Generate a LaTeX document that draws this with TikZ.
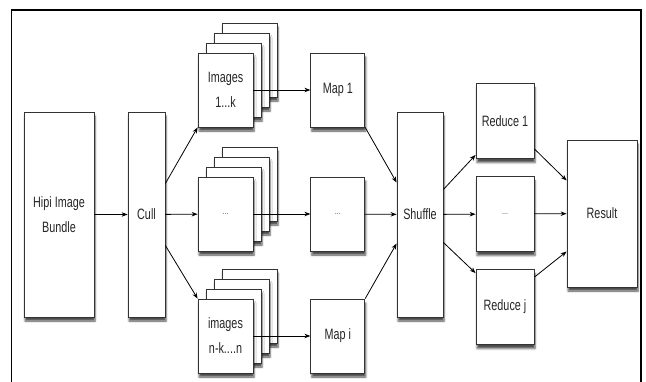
\documentclass[tikz,border=0pt]{standalone}
\usepackage{fontspec}
\setmainfont{Liberation Sans}[FakeStretch=0.72]
\usetikzlibrary{arrows.meta,positioning,shadows.blur}
\tikzset{
    %Define standard arrow tip
    >={Stealth[length=6pt,width=4.5pt]},
    %Define style for boxes
    box/.style={
           rectangle,
           draw=black!80, line width=0.8pt,
           fill=white,
           inner sep=0pt,
           align=center,
           text=black!85,
           font=\fontsize{15}{25}\selectfont,
           blur shadow={shadow xshift=1pt, shadow yshift=-4pt,
                        shadow blur radius=2pt, shadow opacity=70}},
    tallbox/.style={
           box,
           minimum height=205pt},
    pagebox/.style={
           box,
           minimum width=55pt,
           minimum height=74pt},
    mapbox/.style={
           box,
           minimum width=54pt,
           minimum height=74pt},
    redbox/.style={
           box,
           minimum width=58pt,
           minimum height=75pt},
    dots/.style={
           font=\fontsize{10}{10}\selectfont,
           text=black!60},
    % Define arrow style
    arr/.style={
           ->,
           line width=0.8pt}
}

\begin{document}
\begin{tikzpicture}[x=1pt,y=-1pt]
  \useasboundingbox (0,0) rectangle (646,381);
  % frame, cut at the bottom
  \draw[line width=1.4pt] (11.5,395) |- (641,10) -- (641,395);

  \node[tallbox, minimum width=70pt] (hipi) at (59,214.5) {Hipi Image\\Bundle};
  \node[tallbox, minimum width=37pt] (cull) at (146.5,214.5) {Cull};

  % stacks of images
  \foreach \k in {3,2,1} {
    \node[pagebox] (imgsA-\k) at (225.5+8*\k,90-10*\k) {};
    \node[pagebox] (imgsB-\k) at (225.5+8*\k,214-10*\k) {};
    \node[pagebox] (imgsC-\k) at (225.5+8*\k,336-10*\k) {};
  }
  \node[pagebox] (imgsA) at (225.5,90) {Images\\1...k};
  \node[pagebox, dots] (imgsB) at (225.5,214) {...};
  \node[pagebox] (imgsC) at (225.5,336) {images\\n-k....n};

  \node[mapbox, right=57pt of imgsA] (map1) {Map 1};
  \node[mapbox, right=57pt of imgsB, dots] (mapx) {...};
  \node[mapbox, right=57pt of imgsC] (mapi) {Map i};

  \node[tallbox, minimum width=46pt] (shuffle) at (420,214.5) {Shuffle};

  \node[redbox] (red1) at (505,121) {Reduce 1};
  \node[redbox, dots] (redx) at (505,214) {...};
  \node[redbox] (redj) at (505,307) {Reduce j};

  \node[box, minimum width=70pt, minimum height=147pt] (result) at (602,213.5) {Result};

  % connectors
  \draw[arr] (hipi) -- (cull);
  \draw[arr] ([yshift=31pt]cull.east) -- (imgsA.south west);
  \draw[arr] (cull) -- (imgsB);
  \draw[arr] ([yshift=-31pt]cull.east) -- (imgsC.north west);

  \draw[arr] (imgsA.east) -- (map1.west);
  \draw[arr] (imgsB.east) -- (mapx.west);
  \draw[arr] (imgsC.east) -- (mapi.west);

  \draw[arr] (map1.south east) -- ([yshift=32pt]shuffle.west);
  \draw[arr] (mapx) -- (shuffle);
  \draw[arr] (mapi.north east) -- ([yshift=-29pt]shuffle.west);

  \draw[arr] ([yshift=25pt]shuffle.east) -- ([yshift=4pt]red1.south west);
  \draw[arr] (shuffle) -- (redx);
  \draw[arr] ([yshift=-28pt]shuffle.east) -- ([yshift=-4pt]redj.north west);

  \draw[arr] ([yshift=10pt]red1.south east) -- ([yshift=33pt]result.west);
  \draw[arr] (redx) -- (result);
  \draw[arr] ([yshift=-8pt]redj.north east) -- ([yshift=-38pt]result.west);
\end{tikzpicture}
\end{document}
